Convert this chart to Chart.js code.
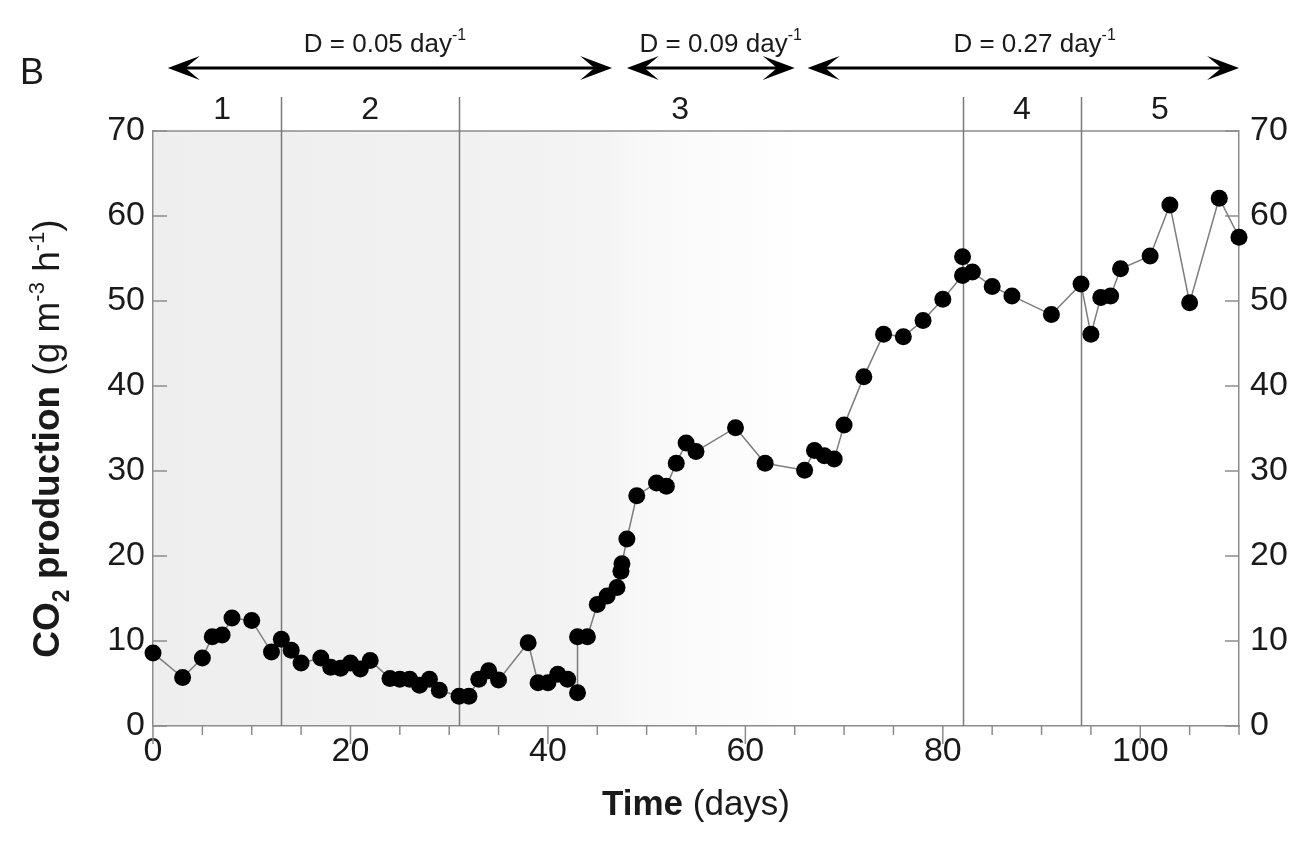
<!DOCTYPE html>
<html><head><meta charset="utf-8">
<script src="https://cdn.jsdelivr.net/npm/chart.js@4.4.1/dist/chart.umd.min.js"></script>
<style>html,body{margin:0;padding:0;background:#fff;} #wrap{width:1309px;height:849px;}</style>
</head><body><div id="wrap"><canvas id="c" width="1309" height="849"></canvas></div>
<script>
// ---- data ----
const days = [0,3,5,6,7,8,10,12,13,14,15,17,18,19,20,21,22,24,25,26,27,28,29,31,32,33,34,35,38,39,40,41,42,43,43,44,45,46,47,47.4,47.5,48,49,51,52,53,54,55,59,62,66,67,68,69,70,72,74,76,78,80,82,82,83,85,87,91,94,95,96,97,98,101,103,105,108,110];
const co2 = [8.6,5.7,8.0,10.5,10.7,12.7,12.4,8.7,10.2,8.9,7.4,8.0,6.9,6.8,7.4,6.7,7.7,5.6,5.5,5.5,4.8,5.5,4.2,3.5,3.5,5.5,6.5,5.4,9.8,5.1,5.1,6.1,5.5,3.9,10.5,10.5,14.3,15.3,16.3,18.2,19.1,22.0,27.1,28.6,28.2,30.9,33.3,32.3,35.1,30.9,30.1,32.4,31.8,31.4,35.4,41.1,46.1,45.8,47.7,50.2,53.0,55.2,53.4,51.7,50.6,48.4,52.0,46.1,50.4,50.6,53.8,55.3,61.3,49.8,62.1,57.5];
const xTickValues = [0,20,40,60,80,100];
const yTickValues = [0,10,20,30,40,50,60,70];
const phaseLineDays = [13,31,82,94];
const phaseNames = ['1','2','3','4','5'];
const phaseNameDays = [7,22,53.4,88,102];
const dilutionRates = ['0.05','0.09','0.27'];
const arrowFrom = [1.5,48,66.3];
const arrowTo = [46.5,65,110];
const dilutionLabelDays = [23.5,57.5,89.3];

const FONT = "'Liberation Sans', Arial, Helvetica, sans-serif";
const AXIS = '#8c8c8c';
const TXT = '#1a1a1a';

function drawArrow(ctx, x1, x2, y){
  const L = 32, H = 12, N = 0.55;
  ctx.save();
  ctx.strokeStyle = '#000'; ctx.fillStyle = '#000'; ctx.lineWidth = 3;
  ctx.beginPath(); ctx.moveTo(x1 + L*0.5, y); ctx.lineTo(x2 - L*0.5, y); ctx.stroke();
  ctx.beginPath(); ctx.moveTo(x2, y); ctx.lineTo(x2 - L, y - H); ctx.lineTo(x2 - L*N, y); ctx.lineTo(x2 - L, y + H); ctx.closePath(); ctx.fill();
  ctx.beginPath(); ctx.moveTo(x1, y); ctx.lineTo(x1 + L, y - H); ctx.lineTo(x1 + L*N, y); ctx.lineTo(x1 + L, y + H); ctx.closePath(); ctx.fill();
  ctx.restore();
}

function drawRich(ctx, parts, cx, cy){
  let total = 0;
  parts.forEach(p => { ctx.font = `${p.w} ${p.s}px ${FONT}`; p.width = ctx.measureText(p.t).width; total += p.width; });
  let x = cx - total/2;
  ctx.textAlign = 'left'; ctx.textBaseline = 'alphabetic';
  parts.forEach(p => { ctx.font = `${p.w} ${p.s}px ${FONT}`; ctx.fillText(p.t, x, cy + (p.dy||0)); x += p.width; });
}

const decor = {
  id: 'decor',
  beforeDraw(chart){
    const {ctx, chartArea:a, scales:{x}} = chart;
    const g = ctx.createLinearGradient(a.left, 0, a.right, 0);
    const stop = (d, c) => g.addColorStop((x.getPixelForValue(d) - a.left)/(a.right - a.left), c);
    stop(0, '#eeeeee'); stop(31, '#f1f1f1'); stop(46, '#f4f4f4'); stop(49, '#f8f8f8'); stop(66, '#ffffff'); stop(110, '#ffffff');
    ctx.save(); ctx.fillStyle = g; ctx.fillRect(a.left, a.top, a.right - a.left, a.bottom - a.top); ctx.restore();
  },
  beforeDatasetsDraw(chart){
    const {ctx, chartArea:a, scales:{x, y}} = chart;
    ctx.save();
    ctx.strokeStyle = AXIS; ctx.lineWidth = 1.5;
    ctx.beginPath(); ctx.moveTo(a.left, a.top); ctx.lineTo(a.right, a.top); ctx.stroke();
    ctx.strokeStyle = '#7a7a7a';
    phaseLineDays.forEach(d => { const px = Math.round(x.getPixelForValue(d)) + 0.5; ctx.beginPath(); ctx.moveTo(px, 97); ctx.lineTo(px, a.bottom); ctx.stroke(); });
    ctx.strokeStyle = AXIS;
    yTickValues.forEach(v => { const py = y.getPixelForValue(v);
      ctx.beginPath(); ctx.moveTo(a.left, py); ctx.lineTo(a.left + 14, py); ctx.stroke();
      ctx.beginPath(); ctx.moveTo(a.right, py); ctx.lineTo(a.right - 14, py); ctx.stroke(); });
    for (let d = 0; d <= 110; d += 5) {
      const px = x.getPixelForValue(d);
      const len = (d % 20 === 0) ? 18 : 9;
      ctx.beginPath(); ctx.moveTo(px, a.bottom); ctx.lineTo(px, a.bottom + len); ctx.stroke();
    }
    ctx.restore();
  },
  afterDraw(chart){
    const {ctx, chartArea:a, scales:{x}} = chart;
    ctx.save();
    ctx.fillStyle = TXT;
    ctx.font = `normal 36px ${FONT}`; ctx.textAlign = 'left'; ctx.textBaseline = 'alphabetic';
    ctx.fillText('B', 20, 84);
    for (let i = 0; i < arrowFrom.length; i++) {
      drawArrow(ctx, x.getPixelForValue(arrowFrom[i]), x.getPixelForValue(arrowTo[i]), 68);
      drawRich(ctx, [
        {t:'D = ' + dilutionRates[i] + ' day', w:'normal', s:26},
        {t:'-1', w:'normal', s:16, dy:-12}
      ], x.getPixelForValue(dilutionLabelDays[i]), 52);
    }
    ctx.font = `normal 32px ${FONT}`; ctx.textAlign = 'center'; ctx.textBaseline = 'alphabetic';
    phaseNames.forEach((n, i) => ctx.fillText(n, x.getPixelForValue(phaseNameDays[i]), 119));
    drawRich(ctx, [
      {t:'Time', w:'bold', s:35},
      {t:' (days)', w:'normal', s:35}
    ], (a.left + a.right)/2, 815);
    ctx.translate(46, (a.top + a.bottom)/2 + 10);
    ctx.rotate(-Math.PI/2);
    drawRich(ctx, [
      {t:'CO', w:'bold', s:37},
      {t:'2', w:'bold', s:23, dy:10},
      {t:' production ', w:'bold', s:37},
      {t:'(g m', w:'normal', s:37},
      {t:'-3', w:'normal', s:22, dy:-15},
      {t:' h', w:'normal', s:37},
      {t:'-1', w:'normal', s:22, dy:-15},
      {t:')', w:'normal', s:37}
    ], 0, 13);
    ctx.restore();
  }
};

const tickFont = {family: FONT, size: 34};
new Chart(document.getElementById('c').getContext('2d'), {
  type: 'line',
  data: { datasets: [{
    data: days.map((d, i) => ({x: d, y: co2[i]})),
    borderColor: '#7d7d7d', borderWidth: 1.5, tension: 0,
    pointRadius: 8.5, pointBackgroundColor: '#000', pointBorderColor: '#000', pointBorderWidth: 0,
    clip: false, yAxisID: 'y'
  }]},
  options: {
    responsive: false, animation: false, devicePixelRatio: 1,
    layout: {padding: {top: 131, left: 0, right: 0, bottom: 0}},
    plugins: {legend: {display: false}, tooltip: {enabled: false}},
    scales: {
      x: {type: 'linear', min: 0, max: 110, position: 'bottom',
        afterBuildTicks: s => { s.ticks = xTickValues.map(v => ({value: v})); },
        afterFit: s => { s.height = 123; },
        grid: {display: true, drawOnChartArea: false, drawTicks: false},
        border: {display: true, color: AXIS, width: 1.5},
        ticks: {font: tickFont, color: TXT, padding: 5, maxRotation: 0, autoSkip: false}},
      y: {type: 'linear', min: 0, max: 70, position: 'left',
        afterBuildTicks: s => { s.ticks = yTickValues.map(v => ({value: v})); },
        afterFit: s => { s.width = 153; },
        grid: {display: true, drawOnChartArea: false, drawTicks: false},
        border: {display: true, color: AXIS, width: 1.5},
        ticks: {font: tickFont, color: TXT, padding: 8}},
      y2: {type: 'linear', min: 0, max: 70, position: 'right',
        afterBuildTicks: s => { s.ticks = yTickValues.map(v => ({value: v})); },
        afterFit: s => { s.width = 70; },
        grid: {display: true, drawOnChartArea: false, drawTicks: false},
        border: {display: true, color: AXIS, width: 1.5},
        ticks: {font: tickFont, color: TXT, padding: 11}}
    }
  },
  plugins: [decor]
});
</script></body></html>
